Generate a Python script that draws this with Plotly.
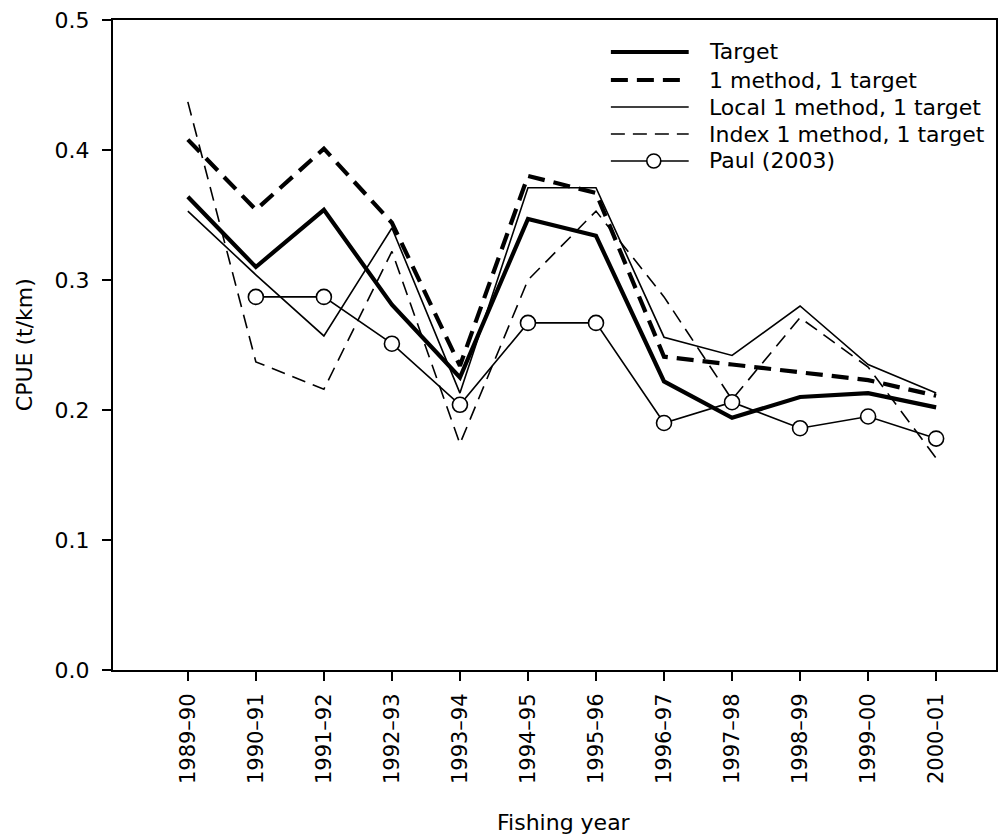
import plotly.graph_objects as go

years = ["1989–90", "1990–91", "1991–92", "1992–93", "1993–94", "1994–95",
         "1995–96", "1996–97", "1997–98", "1998–99", "1999–00", "2000–01"]
target = [0.364, 0.310, 0.354, 0.281, 0.225, 0.347, 0.334, 0.222, 0.194, 0.210, 0.213, 0.202]
one_method = [0.408, 0.354, 0.401, 0.344, 0.234, 0.380, 0.367, 0.241, 0.235, 0.229, 0.223, 0.211]
local_one = [0.353, 0.304, 0.257, 0.340, 0.213, 0.371, 0.371, 0.256, 0.242, 0.280, 0.235, 0.213]
index_one = [0.437, 0.237, 0.216, 0.322, 0.174, 0.300, 0.353, 0.287, 0.208, 0.271, 0.233, 0.163]
paul = [None, 0.287, 0.287, 0.251, 0.204, 0.267, 0.267, 0.190, 0.206, 0.186, 0.195, 0.178]

names = ["Target", "1 method, 1 target", "Local 1 method, 1 target",
         "Index 1 method, 1 target", "Paul (2003)"]

W, H = 1002, 838
L, R, T, B = 113, 4, 20, 168
PW, PH = W - L - R, H - T - B

def px(x):
    return (x - L) / PW

def py(y):
    return (H - B - y) / PH

FONT = "DejaVu Sans, sans-serif"
styles = [
    dict(color="black", width=4.2, dash="solid"),
    dict(color="black", width=4.2, dash="17px,9px"),
    dict(color="black", width=1.6, dash="solid"),
    dict(color="black", width=1.6, dash="14px,8px"),
    dict(color="black", width=1.6, dash="solid"),
]
series = [target, one_method, local_one, index_one, paul]

fig = go.Figure()
for i, (vals, st) in enumerate(zip(series, styles)):
    if i == 4:
        kw = dict(mode="lines+markers",
                  marker=dict(symbol="circle", size=15, color="white",
                              line=dict(color="black", width=1.6)))
    else:
        kw = dict(mode="lines")
    fig.add_trace(go.Scatter(x=years, y=vals, name=names[i], line=st,
                             showlegend=False, connectgaps=False, **kw))

# manual legend
row_y = [52, 80, 107, 134, 161]
shapes = []
annotations = []
for i, (nm, st) in enumerate(zip(names, styles)):
    yy = py(row_y[i])
    shapes.append(dict(type="line", xref="paper", yref="paper",
                       x0=px(612), x1=px(690), y0=yy, y1=yy,
                       line=dict(color="black", width=st["width"], dash=st["dash"])))
    annotations.append(dict(text=nm, xref="paper", yref="paper", x=px(708), y=yy,
                            xanchor="left", yanchor="middle", showarrow=False,
                            font=dict(family=FONT, size=22, color="black")))
shapes.append(dict(type="circle", xref="paper", yref="paper",
                   x0=px(648), x1=px(662), y0=py(row_y[4] + 7), y1=py(row_y[4] - 7),
                   fillcolor="white", line=dict(color="black", width=1.6)))

annotations.append(dict(text="Fishing year", xref="paper", yref="paper",
                        x=px(565), y=py(822), xanchor="center", yanchor="middle",
                        showarrow=False, font=dict(family=FONT, size=22, color="black")))
annotations.append(dict(text="CPUE (t/km)", xref="paper", yref="paper",
                        x=px(24), y=py(345), xanchor="center", yanchor="middle",
                        textangle=-90, showarrow=False,
                        font=dict(family=FONT, size=22, color="black")))

fig.update_layout(
    width=W, height=H,
    margin=dict(l=L, r=R, t=T, b=B, pad=0),
    paper_bgcolor="white", plot_bgcolor="white",
    font=dict(family=FONT, size=22, color="black"),
    shapes=shapes, annotations=annotations,
    showlegend=False,
)
fig.update_xaxes(type="category", range=[-1.1, 11.88], showgrid=False, zeroline=False,
                 showline=True, linecolor="black", linewidth=2, mirror=True,
                 ticks="outside", ticklen=9, tickwidth=1.6, tickcolor="black",
                 ticklabelstandoff=4,
                 tickangle=-90, tickfont=dict(family=FONT, size=21, color="black"))
fig.update_yaxes(range=[0, 0.5], showgrid=False, zeroline=False,
                 showline=True, linecolor="black", linewidth=2, mirror=True,
                 ticks="outside", ticklen=9, tickwidth=1.6, tickcolor="black",
                 ticklabelstandoff=8,
                 tickvals=[0, 0.1, 0.2, 0.3, 0.4, 0.5], tickformat=".1f",
                 tickfont=dict(family=FONT, size=22, color="black"))

fig.write_html("out.html")
